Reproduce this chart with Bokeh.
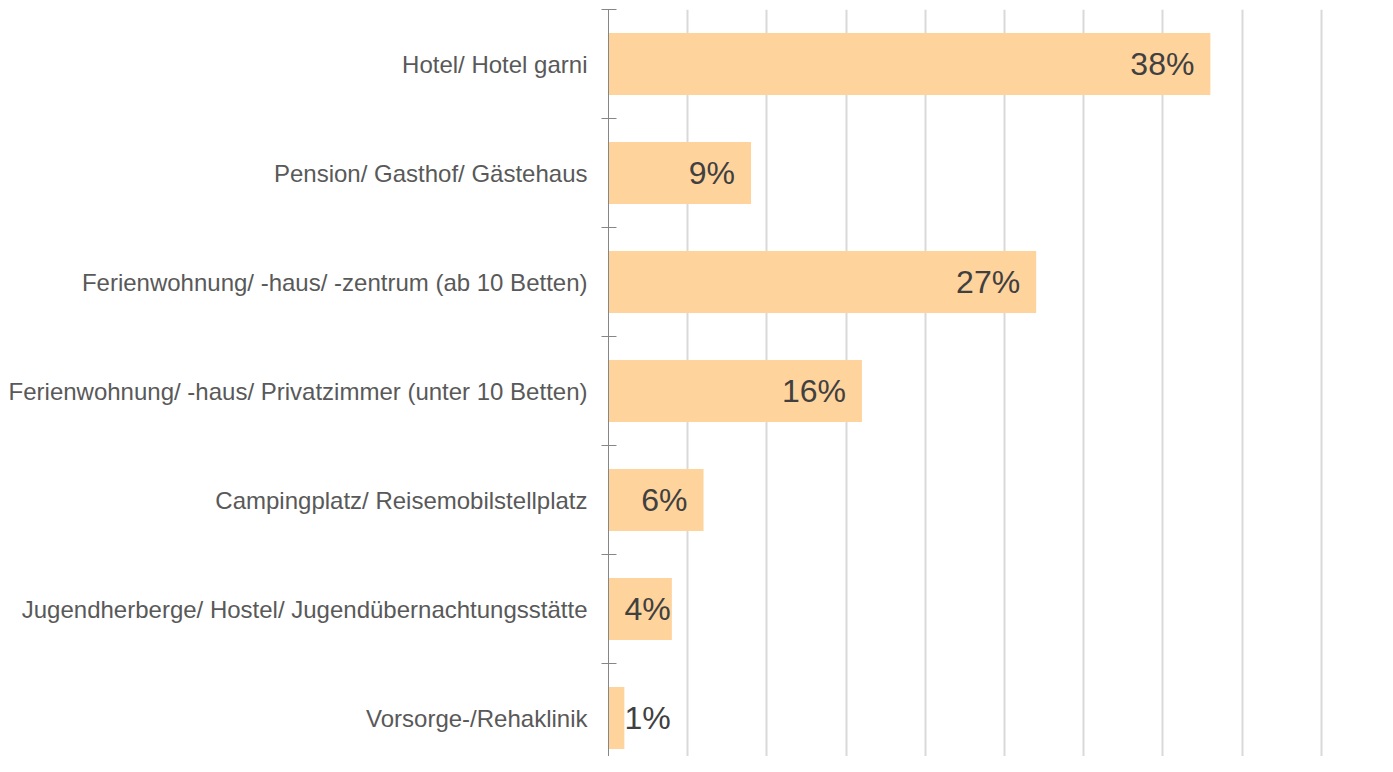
from bokeh.plotting import figure
from bokeh.models import ColumnDataSource, Range1d, FixedTicker
from bokeh.core.properties import value
from bokeh.embed import file_html
from bokeh.resources import INLINE

categories = [
    "Hotel/ Hotel garni",
    "Pension/ Gasthof/ Gästehaus",
    "Ferienwohnung/ -haus/ -zentrum (ab 10 Betten)",
    "Ferienwohnung/ -haus/ Privatzimmer (unter 10 Betten)",
    "Campingplatz/ Reisemobilstellplatz",
    "Jugendherberge/ Hostel/ Jugendübernachtungsstätte",
    "Vorsorge-/Rehaklinik",
]
shares = [38, 9, 27, 16, 6, 4, 1]
labels = ["38%", "9%", "27%", "16%", "6%", "4%", "1%"]
grid_ticks = [5, 10, 15, 20, 25, 30, 35, 40, 45]

n = len(categories)
ypos = [n - i for i in range(n)]
small = [v < 5 for v in shares]
src = ColumnDataSource(dict(
    y=ypos, v=shares, lab=labels,
    tx=[0 if s else v for s, v in zip(small, shares)],
    align=["left" if s else "right" for s in small],
    xoff=[16 if s else -16 for s in small],
))

p = figure(width=1377, height=756, output_backend="svg", toolbar_location=None,
           x_range=Range1d(0, 48.55), y_range=Range1d(0.647, n + 0.5),
           min_border_left=608, min_border_right=0, min_border_top=9, min_border_bottom=0)
p.outline_line_color = None
p.background_fill_color = "white"
p.border_fill_color = "white"

p.hbar(y="y", right="v", left=0, height=0.57, source=src,
       fill_color="#FFD39C", line_color=None)
p.text(x="tx", y="y", text="lab", source=src, text_align="align", x_offset="xoff",
       text_baseline="middle", text_font=value("Liberation Sans"),
       text_font_size="32px", text_color="#404040")

# x axis: hidden, gridlines only
p.xaxis.visible = False
p.xgrid.ticker = FixedTicker(ticks=grid_ticks)
p.xgrid.grid_line_color = "#D9D9D9"
p.xgrid.grid_line_width = 2
p.ygrid.grid_line_color = None

yax = p.yaxis[0]
yax.ticker = FixedTicker(ticks=ypos, minor_ticks=[k + 0.5 for k in range(n + 1)])
yax.major_label_overrides = {y: c for y, c in zip(ypos, categories)}
yax.major_tick_line_color = None
yax.major_tick_in = 0
yax.major_tick_out = 0
yax.minor_tick_line_color = "#868686"
yax.minor_tick_in = 8
yax.minor_tick_out = 7
yax.minor_tick_line_width = 1
yax.axis_line_color = "#868686"
yax.axis_line_width = 1
yax.major_label_standoff = 14
yax.major_label_text_font = "Liberation Sans"
yax.major_label_text_font_size = "24px"
yax.major_label_text_color = "#595959"

open("out.html", "w").write(file_html(p, INLINE))
